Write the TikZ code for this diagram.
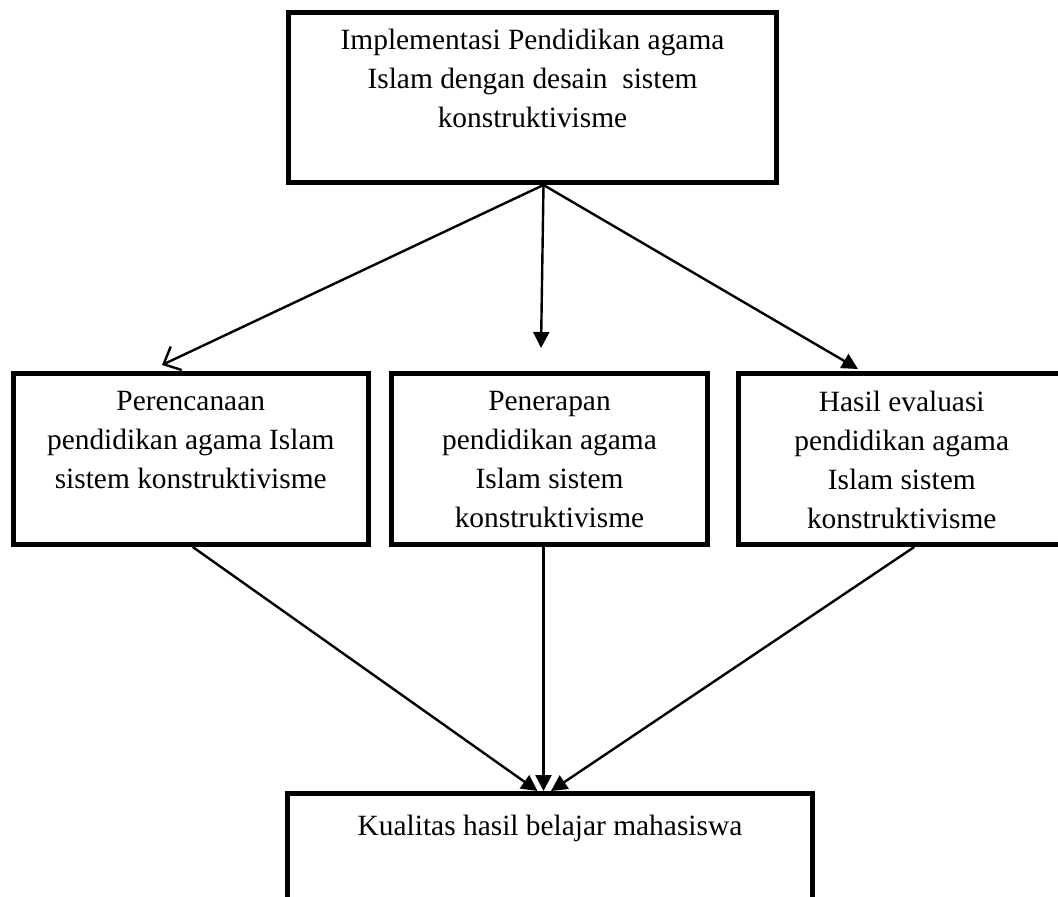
\documentclass[tikz,border=0pt]{standalone}
\usepackage{fontspec}
\setmainfont{Liberation Serif}
\usetikzlibrary{arrows.meta}

\tikzset{
  box/.style={draw=black, line width=2.5pt, inner sep=0pt, anchor=north west},
  link/.style={draw=black, line width=1.2pt},
  solidtip/.style={-{Triangle[length=8pt,width=8pt]}},
  opentip/.style={-{Straight Barb[length=7pt,width=13pt,line width=1.2pt]}},
}
\newcommand{\boxtext}[4]{\parbox[c][#2][t]{#1}{\centering\fontsize{14.7}{19.5}\selectfont\vspace*{#3}#4}}

\begin{document}
\begin{tikzpicture}[x=0.5pt,y=-0.5pt]
  \useasboundingbox (0,0) rectangle (1058,897);
  \clip (0,0) rectangle (1058,897);
  \begin{scope}[every node/.style={box}]
    \node (impl) at (286,10) {\boxtext{244pt}{85pt}{8.5pt}{Implementasi Pendidikan agama\\ Islam dengan desain~ sistem\\ konstruktivisme}};
    \node (renc) at (10.5,371) {\boxtext{177.75pt}{85.5pt}{9pt}{Perencanaan\\ pendidikan agama Islam\\ sistem konstruktivisme}};
    \node (terap) at (389,371) {\boxtext{158pt}{85.5pt}{9pt}{Penerapan\\ pendidikan agama\\ Islam sistem\\ konstruktivisme}};
    \node (eval) at (735.5,371) {\boxtext{163.75pt}{85.5pt}{9pt}{Hasil evaluasi\\ pendidikan agama\\ Islam sistem\\ konstruktivisme}};
    \node (kual) at (285,791) {\boxtext{262.5pt}{75pt}{11pt}{Kualitas hasil belajar mahasiswa}};
  \end{scope}
  % ends of the upper arrows
  \coordinate (apex) at ([xshift=5.5pt]impl.south);
  \coordinate (inA) at (162,365);
  \coordinate (inB) at (541,348);
  \coordinate (inC) at (858,369);
  % ends of the lower arrows
  \coordinate (outA) at ([xshift=-6.25pt]kual.north);
  \coordinate (outB) at ([xshift=-3.25pt]kual.north);
  \coordinate (outC) at ([xshift=0.5pt]kual.north);
  \begin{scope}[every edge/.style={link}]
    \path (apex) edge[opentip] (inA);
    \path (apex) edge[solidtip] (inB);
    \path (apex) edge[solidtip] (inC);
    \path ([xshift=1pt]renc.south) edge[solidtip] (outA);
    \path ([xshift=-3pt]terap.south) edge[solidtip] (outB);
    \path ([xshift=6.25pt]eval.south) edge[solidtip] (outC);
  \end{scope}
\end{tikzpicture}
\end{document}
